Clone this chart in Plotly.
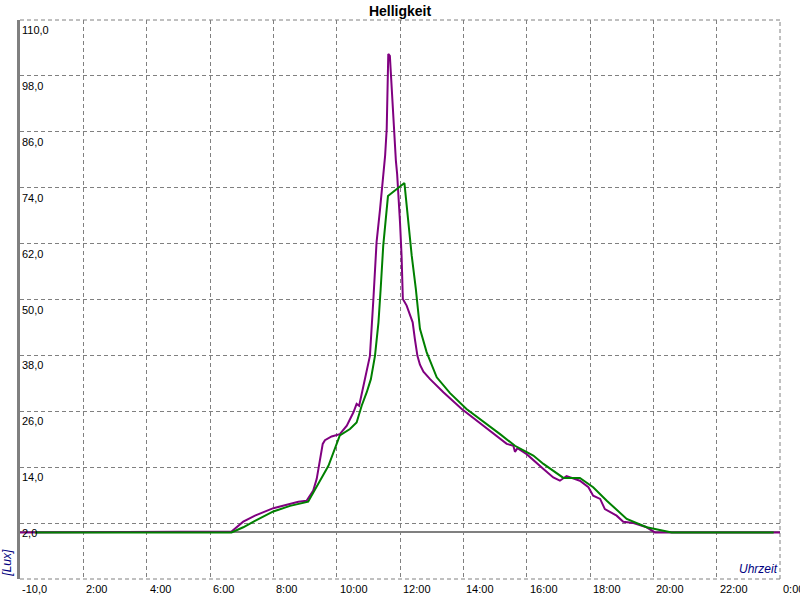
import plotly.graph_objects as go

# time in hours, brightness in Lux
purple_t = [0.0, 6.68, 7.05, 7.42, 8.0, 8.42, 8.79, 9.05, 9.26, 9.37, 9.42, 9.5, 9.56, 9.63, 9.84, 10.1,
            10.32, 10.53, 10.63, 10.71, 10.79, 10.86, 10.9, 11.05, 11.16, 11.26, 11.37, 11.45, 11.53, 11.58,
            11.61, 11.63, 11.68, 11.71, 11.77, 11.82, 11.87, 11.91, 11.96, 12.0, 12.05, 12.09, 12.21, 12.34,
            12.4, 12.47, 12.55, 12.63, 12.74, 12.95, 13.16, 13.37, 13.95, 14.42, 14.84, 15.37, 15.58, 15.63,
            15.71, 16.0, 16.53, 16.84, 17.05, 17.26, 17.68, 17.95, 18.1, 18.32, 18.47, 18.84, 19.05, 19.37,
            19.79, 20.05, 24.0]
purple_v = [0.0, 0.2, 2.3, 3.6, 5.2, 5.9, 6.6, 6.8, 9.0, 11.5, 13.6, 16.5, 19.0, 19.8, 20.6, 21.1,
            22.9, 25.8, 27.6, 27.2, 29.7, 31.5, 32.9, 37.9, 50.1, 62.3, 69.4, 75.1, 80.9, 86.6,
            93.7, 102.7, 102.3, 98.5, 91.6, 86.6, 79.8, 76.9, 71.6, 66.6, 59.4, 50.1, 48.7, 46.5,
            45.1, 41.5, 37.9, 36.0, 34.5, 32.9, 31.5, 30.1, 26.5, 24.0, 21.8, 19.0, 18.6, 17.3,
            18.1, 16.8, 13.6, 11.8, 11.1, 12.1, 11.1, 9.7, 7.9, 7.2, 5.0, 3.6, 2.3, 2.0,
            1.1, 0.0, 0.0]

green_t = [0.47, 6.68, 7.05, 7.42, 8.0, 8.53, 9.1, 9.32, 9.74, 10.1, 10.42, 10.63, 10.79, 10.95, 11.08,
           11.21, 11.32, 11.39, 11.47, 11.62, 12.14, 12.37, 12.5, 12.63, 12.84, 13.16, 13.58, 14.1, 14.74,
           15.16, 15.63, 16.21, 16.53, 17.16, 17.68, 18.1, 18.53, 19.16, 19.79, 20.58, 23.8]
green_v = [0.0, 0.0, 1.1, 2.5, 4.5, 5.7, 6.6, 9.3, 14.3, 20.8, 22.2, 23.6, 27.2, 30.1, 32.9,
           37.9, 45.1, 52.3, 61.5, 72.2, 75.0, 59.4, 52.3, 43.7, 38.7, 33.3, 29.9, 26.5, 23.3,
           21.1, 18.6, 16.5, 14.7, 11.7, 11.7, 9.7, 6.8, 2.9, 1.1, 0.0, 0.0]

x_ticks = [2, 4, 6, 8, 10, 12, 14, 16, 18, 20, 22, 24]
x_labels = ["2:00", "4:00", "6:00", "8:00", "10:00", "12:00", "14:00", "16:00",
            "18:00", "20:00", "22:00", "0:00"]
y_ticks = [-10, 2, 14, 26, 38, 50, 62, 74, 86, 98, 110]
y_labels = ["-10,0", "2,0", "14,0", "26,0", "38,0", "50,0", "62,0", "74,0", "86,0", "98,0", "110,0"]

FONT = "Liberation Sans, Arial, sans-serif"
GRID = "#808080"

fig = go.Figure()
fig.add_trace(go.Scatter(x=purple_t, y=purple_v, mode="lines",
                         line=dict(color="#800080", width=2), showlegend=False))
fig.add_trace(go.Scatter(x=green_t, y=green_v, mode="lines",
                         line=dict(color="#008000", width=2), showlegend=False))

fig.update_layout(
    width=800, height=600,
    margin=dict(l=20, r=20, t=20, b=21, autoexpand=False),
    paper_bgcolor="white", plot_bgcolor="white",
    font=dict(family=FONT, size=11, color="black"),
    title=dict(text="<b>Helligkeit</b>", x=0.5, xanchor="center", y=0.982, yanchor="middle",
               font=dict(family=FONT, size=14, color="black")),
    xaxis=dict(range=[0, 24], tickvals=x_ticks, showticklabels=False, showgrid=True,
               gridcolor=GRID, gridwidth=1, griddash="4px,3px", zeroline=False,
               showline=False, ticks="", automargin=False),
    yaxis=dict(range=[-10, 110], tickvals=y_ticks, showticklabels=False, showgrid=True,
               gridcolor=GRID, gridwidth=1, griddash="4px,3px", zeroline=True,
               zerolinecolor=GRID, zerolinewidth=2, showline=True, linecolor=GRID,
               linewidth=3, ticks="", automargin=False),
)

# dashed frame on top, right and bottom
for x0, y0, x1, y1 in [(0, 1, 1, 1), (1, 0, 1, 1), (0, 0, 1, 0)]:
    fig.add_shape(type="line", xref="paper", yref="paper", x0=x0, y0=y0, x1=x1, y1=y1,
                  line=dict(color=GRID, width=1, dash="4px,3px"), layer="below")

for v, lab in zip(y_ticks, y_labels):
    fig.add_annotation(x=0, xref="paper", y=v, yref="y", text=lab, showarrow=False,
                       xanchor="left", yanchor="top", xshift=0, yshift=-2,
                       font=dict(family=FONT, size=11, color="black"))

for v, lab in zip(x_ticks, x_labels):
    fig.add_annotation(x=v, xref="x", y=0, yref="paper", text=lab, showarrow=False,
                       xanchor="left", yanchor="top", xshift=1, yshift=-2,
                       font=dict(family=FONT, size=11, color="black"))

fig.add_annotation(x=-0.0165, xref="paper", y=0.03, yref="paper", text="<i>[Lux]</i>",
                   textangle=-90, showarrow=False, xanchor="center", yanchor="middle",
                   font=dict(family=FONT, size=12, color="#000080"))
fig.add_annotation(x=1, xref="paper", y=0.017, yref="paper", text="<i>Uhrzeit</i>",
                   showarrow=False, xanchor="right", yanchor="middle",
                   font=dict(family=FONT, size=12, color="#000080"))

fig.write_html("out.html", config={"displayModeBar": False},
               post_script="document.body.style.margin='0';document.body.style.overflow='hidden';")
